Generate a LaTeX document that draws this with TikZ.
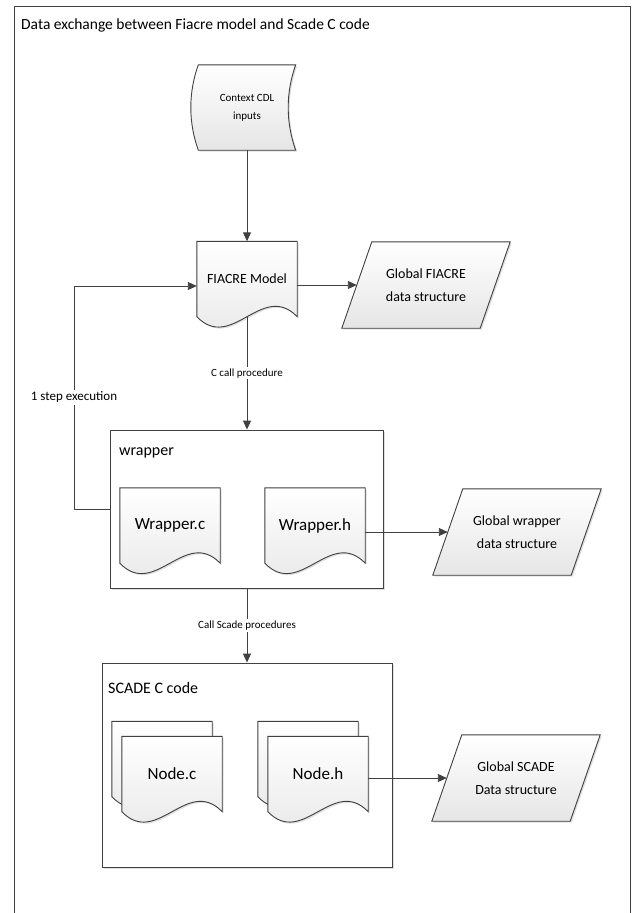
\documentclass[tikz,border=0pt]{standalone}
\usepackage{fontspec}
\setmainfont{Carlito}
\usetikzlibrary{arrows.meta,calc,shadows}
\pgfdeclarelayer{back}
\pgfdeclarelayer{bg}
\pgfsetlayers{back,bg,main}
\tikzset{
  outline/.style={draw=black!75, line width=0.9pt, top color=white, bottom color=black!10,
    drop shadow={shadow xshift=1.5pt, shadow yshift=-1.5pt, opacity=.25}},
  docbox/.style={minimum width=100pt, minimum height=75pt, inner sep=0pt, font=\fontsize{17}{20}\selectfont},
  databox/.style={minimum width=138pt, minimum height=86pt, inner sep=0pt, align=center, font=\fontsize{14}{23}\selectfont},
  groupbox/.style={draw=black!75, line width=0.9pt, fill=white, inner sep=0pt,
    drop shadow={shadow xshift=1.5pt, shadow yshift=-1.5pt, opacity=.25}},
  grouplbl/.style={anchor=west, inner sep=0pt, font=\fontsize{16}{19}\selectfont},
  flow/.style={draw=black!75, line width=0.9pt, -{Triangle[length=9pt,width=8pt]}},
  elabel/.style={fill=white, inner sep=1.5pt, font=\fontsize{11}{13}\selectfont},
}

\begin{document}
\begin{tikzpicture}[x=1pt, y=-1pt]
        \useasboundingbox (0,0) rectangle (641,913);
        \draw [black!75, line width=0.9pt] (14,913) -- (14,6) -- (630,6) -- (630,913);
        \node (title) [anchor=west, inner sep=0pt, font=\fontsize{15.5}{18}\selectfont] at (21,25) {Data exchange between Fiacre model and Scade C code};
        \node (ctx) [minimum width=97pt, minimum height=85pt, inner sep=0pt, align=center, font=\fontsize{11}{18}\selectfont] at (247,107.5) {Context CDL\\inputs};
        \node (fiacre) [docbox, font=\fontsize{14}{17}\selectfont] at (247,279) {FIACRE Model};
        \node (gfiacre) [databox] at (426,285) {Global FIACRE\\data structure};
        \node (wraplbl) [grouplbl] at (119,453) {wrapper};
        \node (wrapc) [docbox] at (170,525.5) {Wrapper.c};
        \node (wraph) [docbox] at (315,525.5) {Wrapper.h};
        \node (gwrap) [databox] at (517,532) {Global wrapper\\data structure};
        \node (scadelbl) [grouplbl] at (108,688) {SCADE C code};
        \node (nodecb) [docbox] at (162,759) {};
        \node (nodec) [docbox] at (172,774) {Node.c};
        \node (nodehb) [docbox] at (308,759) {};
        \node (nodeh) [docbox] at (318,774) {Node.h};
        \node (gscade) [databox] at (516,778) {Global SCADE\\Data structure};
        \coordinate (loopb) at (74,509);
        \coordinate (loopt) at (74,286);
        \begin{pgfonlayer}{back}
                \node (wrapper) [groupbox, minimum width=273pt, minimum height=158pt] at (247,509) {};
                \node (scade) [groupbox, minimum width=290pt, minimum height=204pt] at (247,765) {};
        \end{pgfonlayer}
        \begin{pgfonlayer}{bg}
                \path [outline] (ctx.north west) -- (ctx.north east)
                        .. controls +(-10,28) and +(-10,-28) .. (ctx.south east) -- (ctx.south west)
                        .. controls +(-10,-28) and +(-10,28) .. (ctx.north west) -- cycle;
                \foreach \d in {fiacre,wrapc,wraph,nodecb,nodec,nodehb,nodeh}
                        \path [outline] (\d.north west) -- (\d.north east) -- (\d.south east)
                                .. controls +(-35,-36) and +(35,36) .. (\d.south west) -- cycle;
                \foreach \g in {gfiacre,gwrap,gscade}
                        \path [outline] ($(\g.north west)+(15,0)$) -- ($(\g.north east)+(15,0)$)
                                -- ($(\g.south east)+(-15,0)$) -- ($(\g.south west)+(-15,0)$) -- cycle;
                \draw (ctx) edge [flow] (fiacre);
                \draw (fiacre.east |- gfiacre) edge [flow] (gfiacre);
                \draw (fiacre) edge [flow] node [elabel] {C call procedure} (wrapper);
                \draw [flow] (wrapper.west) -- (loopb) -- node [elabel, font=\fontsize{13}{15}\selectfont] {1 step execution} (loopt) -- ([yshift=-7pt]fiacre.west);
                \draw (wraph.east |- gwrap) edge [flow] (gwrap);
                \draw (wrapper) edge [flow] node [elabel] {Call Scade procedures} (scade);
                \draw (nodeh.east |- gscade) edge [flow] (gscade);
        \end{pgfonlayer}
\end{tikzpicture}
\end{document}
